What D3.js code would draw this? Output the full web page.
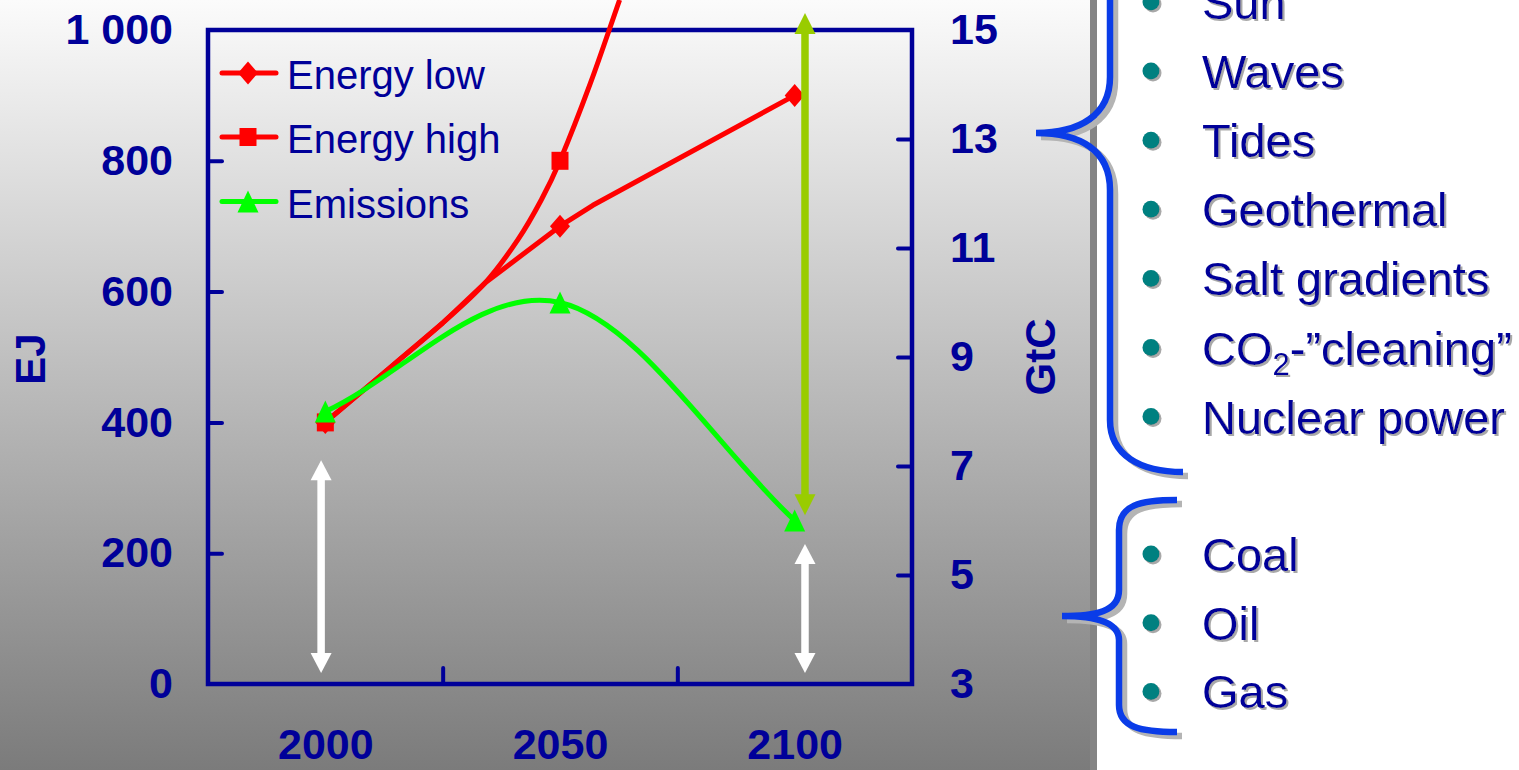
<!DOCTYPE html>
<html>
<head>
<meta charset="utf-8">
<script src="https://cdn.jsdelivr.net/npm/d3@7"></script>
<style>
  html, body { margin: 0; padding: 0; background: #ffffff; }
  svg { display: block; }
</style>
</head>
<body>
<svg id="chart" width="1519" height="770"></svg>
<script>
// ---------------- data ----------------
const markerYears = [2000, 2050, 2100];
const xTickLabels = ["2000", "2050", "2100"];
const xBoundaryTicks = [2025, 2075];
const ejTicks = [0, 200, 400, 600, 800, 1000];
const ejTickLabels = ["0", "200", "400", "600", "800", "1 000"];
const gtcTicks = [3, 5, 7, 9, 11, 13, 15];
const gtcTickLabels = ["3", "5", "7", "9", "11", "13", "15"];

const seriesNames = ["Energy low", "Energy high", "Emissions"];

// Energy low (EJ)
const energyLowYears = [2000, 2014, 2025, 2034, 2050, 2057, 2100];
const energyLowValues = [400, 485, 552, 613, 700, 732, 900];
const energyLowMarkerValues = [400, 700, 900];

// Energy high (EJ) (leaves the chart at the top)
const energyHighYears = [2000, 2014, 2025, 2034, 2041, 2046, 2050, 2056.5, 2062.7];
const energyHighValues = [400, 485, 552, 613, 679, 740, 800, 919, 1046];
const energyHighMarkerYears = [2000, 2050];
const energyHighMarkerValues = [400, 800];

// Emissions (GtC, right axis)
const emissionsValues = [8, 10, 6];

// Annotation arrows (year, EJ from, EJ to)
const whiteArrowYears = [1999.1, 2102.2];
const whiteArrowFrom = [17, 17];
const whiteArrowTo = [342, 214];
const greenArrowYear = 2102.2;
const greenArrowFrom = 1026;
const greenArrowTo = 258;

// Right-hand lists
const renewablesList = ["Sun", "Waves", "Tides", "Geothermal", "Salt gradients", "CO2-\u201Dcleaning\u201D", "Nuclear power"];
const fossilList = ["Coal", "Oil", "Gas"];

// ---------------- drawing ----------------
const svg = d3.select("#chart");
const W = 1519, H = 770;
const NAVY = "#000099";

const defs = svg.append("defs");
const grad = defs.append("linearGradient").attr("id", "bg").attr("x1", 0).attr("y1", 0).attr("x2", 0).attr("y2", 1);
grad.append("stop").attr("offset", 0).attr("stop-color", "#fbfbfb");
grad.append("stop").attr("offset", 1).attr("stop-color", "#7b7b7b");
const shadow = defs.append("filter").attr("id", "txtshadow").attr("x", "-10%").attr("y", "-10%").attr("width", "130%").attr("height", "130%");
shadow.append("feDropShadow").attr("dx", 2).attr("dy", 2).attr("stdDeviation", 0.3).attr("flood-color", "#a8a8a8").attr("flood-opacity", 1);

// background panel
svg.append("rect").attr("x", 0).attr("y", 0).attr("width", W).attr("height", H).attr("fill", "#ffffff");
svg.append("rect").attr("x", 0).attr("y", 0).attr("width", 1090).attr("height", H).attr("fill", "url(#bg)");
svg.append("rect").attr("x", 1090).attr("y", 0).attr("width", 7).attr("height", H).attr("fill", "#848484");

// scales
const plot = { left: 208, right: 912, top: 30, bottom: 684 };
const x = d3.scaleLinear().domain([1975, 2125]).range([plot.left, plot.right]);
const yL = d3.scaleLinear().domain([0, 1000]).range([plot.bottom, plot.top]);
const yR = d3.scaleLinear().domain([3, 15]).range([plot.bottom, plot.top]);

const labelFont = "'Liberation Sans', Arial, sans-serif";

// axes: ticks (inward)
const gAxes = svg.append("g");
const leftTicks = gAxes.append("g").attr("transform", `translate(${plot.left},0)`)
  .call(d3.axisLeft(yL).tickValues(ejTicks.slice(1, -1)).tickSize(-14).tickFormat(""));
const rightTicks = gAxes.append("g").attr("transform", `translate(${plot.right},0)`)
  .call(d3.axisRight(yR).tickValues(gtcTicks.slice(1, -1)).tickSize(-14).tickFormat(""));
const bottomTicks = gAxes.append("g").attr("transform", `translate(0,${plot.bottom})`)
  .call(d3.axisBottom(x).tickValues(xBoundaryTicks).tickSize(-16).tickFormat(""));
[leftTicks, rightTicks, bottomTicks].forEach(g => {
  g.select(".domain").remove();
  g.selectAll("line").attr("stroke", NAVY).attr("stroke-width", 4).attr("stroke-linecap", "round");
});

// axes: labels
const leftLabels = gAxes.append("g").attr("transform", `translate(${plot.left},0)`)
  .call(d3.axisLeft(yL).tickValues(ejTicks).tickSize(0).tickPadding(35).tickFormat((d, i) => ejTickLabels[i]));
const rightLabels = gAxes.append("g").attr("transform", `translate(${plot.right},0)`)
  .call(d3.axisRight(yR).tickValues(gtcTicks).tickSize(0).tickPadding(38).tickFormat((d, i) => gtcTickLabels[i]));
const bottomLabels = gAxes.append("g").attr("transform", `translate(0,${plot.bottom})`)
  .call(d3.axisBottom(x).tickValues(markerYears).tickSize(0).tickFormat((d, i) => xTickLabels[i]));
bottomLabels.selectAll("text").attr("dy", null).attr("y", 75);
[leftLabels, rightLabels, bottomLabels].forEach(g => {
  g.select(".domain").remove();
  g.selectAll("text").attr("fill", NAVY).attr("font-family", labelFont)
    .attr("font-weight", "bold").attr("font-size", 43);
});

// frame
svg.append("rect").attr("x", plot.left).attr("y", plot.top)
  .attr("width", plot.right - plot.left).attr("height", plot.bottom - plot.top)
  .attr("fill", "none").attr("stroke", NAVY).attr("stroke-width", 4.5);

// axis titles
svg.append("text").attr("transform", "translate(30,359) rotate(-90)")
  .attr("text-anchor", "middle").attr("dominant-baseline", "central")
  .attr("font-family", labelFont).attr("font-weight", "bold").attr("font-size", 42)
  .attr("fill", NAVY).text("EJ");
svg.append("text").attr("transform", "translate(1040,357) rotate(-90)")
  .attr("text-anchor", "middle").attr("dominant-baseline", "central")
  .attr("font-family", labelFont).attr("font-weight", "bold").attr("font-size", 42)
  .attr("fill", NAVY).text("GtC");

// smoothing similar to spreadsheet smoothed lines
function smoothPath(pts) {
  const p = d3.path();
  p.moveTo(pts[0][0], pts[0][1]);
  for (let i = 0; i < pts.length - 1; i++) {
    const a = pts[i], b = pts[i + 1];
    const prev = i > 0 ? pts[i - 1] : null;
    const next = i + 2 < pts.length ? pts[i + 2] : null;
    const c1 = prev ? [a[0] + (b[0] - prev[0]) / 6, a[1] + (b[1] - prev[1]) / 6]
                    : [a[0] + (b[0] - a[0]) / 3, a[1] + (b[1] - a[1]) / 3];
    const c2 = next ? [b[0] - (next[0] - a[0]) / 6, b[1] - (next[1] - a[1]) / 6]
                    : [b[0] - (b[0] - a[0]) / 3, b[1] - (b[1] - a[1]) / 3];
    p.bezierCurveTo(c1[0], c1[1], c2[0], c2[1], b[0], b[1]);
  }
  return p.toString();
}

const LW = 5;
const gLines = svg.append("g");
// energy high
gLines.append("path")
  .attr("d", smoothPath(energyHighYears.map((yr, i) => [x(yr), yL(energyHighValues[i])])))
  .attr("fill", "none").attr("stroke", "#ff0000").attr("stroke-width", LW).attr("stroke-linejoin", "round");
// energy low
gLines.append("path")
  .attr("d", d3.line().x(d => x(d[0])).y(d => yL(d[1])).curve(d3.curveLinear)(energyLowYears.map((yr, i) => [yr, energyLowValues[i]])))
  .attr("fill", "none").attr("stroke", "#ff0000").attr("stroke-width", LW).attr("stroke-linejoin", "round");
// emissions
gLines.append("path")
  .attr("d", smoothPath(markerYears.map((yr, i) => [x(yr), yR(emissionsValues[i])])))
  .attr("fill", "none").attr("stroke", "#00ff00").attr("stroke-width", LW);

// marker shapes
const diamond = "M0,-11.5L10,0L0,11.5L-10,0Z";
const square = "M-8.5,-9L8.5,-9L8.5,9L-8.5,9Z";
const triangle = "M0,-11L10.5,11L-10.5,11Z";

gLines.selectAll(".mLow").data(markerYears).join("path")
  .attr("transform", (d, i) => `translate(${x(d)},${yL(energyLowMarkerValues[i])})`)
  .attr("d", diamond).attr("fill", "#ff0000");
gLines.selectAll(".mHigh").data(energyHighMarkerYears).join("path")
  .attr("transform", (d, i) => `translate(${x(d)},${yL(energyHighMarkerValues[i])})`)
  .attr("d", square).attr("fill", "#ff0000");
gLines.selectAll(".mEm").data(markerYears).join("path")
  .attr("transform", (d, i) => `translate(${x(d)},${yR(emissionsValues[i])})`)
  .attr("d", triangle).attr("fill", "#00ff00");

// arrows
function arrow(g, xp, y1, y2, color, shaft, headW, headL) {
  const top = Math.min(y1, y2), bot = Math.max(y1, y2);
  g.append("line").attr("x1", xp).attr("x2", xp).attr("y1", top + headL - 1).attr("y2", bot - headL + 1)
    .attr("stroke", color).attr("stroke-width", shaft);
  g.append("path").attr("d", `M${xp},${top}L${xp + headW / 2},${top + headL}L${xp - headW / 2},${top + headL}Z`).attr("fill", color);
  g.append("path").attr("d", `M${xp},${bot}L${xp + headW / 2},${bot - headL}L${xp - headW / 2},${bot - headL}Z`).attr("fill", color);
}
const gArrows = svg.append("g");
whiteArrowYears.forEach((yr, i) => arrow(gArrows, x(yr), yL(whiteArrowFrom[i]), yL(whiteArrowTo[i]), "#ffffff", 7.5, 21, 20));
arrow(gArrows, x(greenArrowYear), yL(greenArrowTo), yL(greenArrowFrom), "#99cc00", 7.5, 21, 21);

// legend
const legendFont = "'Liberation Sans', Arial, sans-serif";
const legendRows = [
  { name: seriesNames[0], color: "#ff0000", shape: diamond, y: 73 },
  { name: seriesNames[1], color: "#ff0000", shape: square, y: 137 },
  { name: seriesNames[2], color: "#00ff00", shape: triangle, y: 201.5 }
];
const gLeg = svg.append("g");
legendRows.forEach(r => {
  gLeg.append("line").attr("x1", 222).attr("x2", 276).attr("y1", r.y).attr("y2", r.y)
    .attr("stroke", r.color).attr("stroke-width", LW).attr("stroke-linecap", "round");
  gLeg.append("path").attr("transform", `translate(248,${r.y})`).attr("d", r.shape).attr("fill", r.color);
  gLeg.append("text").attr("x", 287).attr("y", r.y + 16).attr("font-family", legendFont)
    .attr("font-size", 40).attr("fill", NAVY).text(r.name);
});

// right side lists
const listFont = "'Liberation Sans', Arial, sans-serif";
function drawList(items, baseline0, step) {
  const g = svg.append("g");
  items.forEach((t, i) => {
    const by = baseline0 + i * step;
    g.append("circle").attr("cx", 1151).attr("cy", by - 17).attr("r", 8.5)
      .attr("fill", "#008080").attr("filter", "url(#txtshadow)");
    const txt = g.append("text").attr("x", 1202).attr("y", by).attr("font-family", listFont)
      .attr("font-size", 47).attr("fill", NAVY).attr("filter", "url(#txtshadow)");
    if (t.startsWith("CO2")) {
      txt.append("tspan").text("CO");
      txt.append("tspan").attr("font-size", 31).attr("dy", 10).text("2");
      txt.append("tspan").attr("dy", -10).text(t.slice(3));
    } else {
      txt.text(t);
    }
  });
}
drawList(renewablesList, 19, 69.1);
drawList(fossilList, 571, 68.7);

// braces
function brace(d) {
  svg.append("path").attr("d", d).attr("transform", "translate(5,4)")
    .attr("fill", "none").attr("stroke", "#b4b4b4").attr("stroke-width", 6.5);
  svg.append("path").attr("d", d)
    .attr("fill", "none").attr("stroke", "#0a3ce8").attr("stroke-width", 6.5).attr("stroke-linecap", "butt");
}
brace("M1183,-206 C1140,-206 1110,-189 1110,-154 L1110,77 C1110,115 1080,133 1036,133 C1080,133 1110,150 1110,190 L1110,420 C1110,455 1140,472 1183,472");
brace("M1177,500 C1140,500 1119,505 1119,530 L1119,590 C1119,612 1095,616 1062,616 C1095,616 1119,622 1119,640 L1119,705 C1119,727 1140,732 1177,732");
</script>
</body>
</html>
